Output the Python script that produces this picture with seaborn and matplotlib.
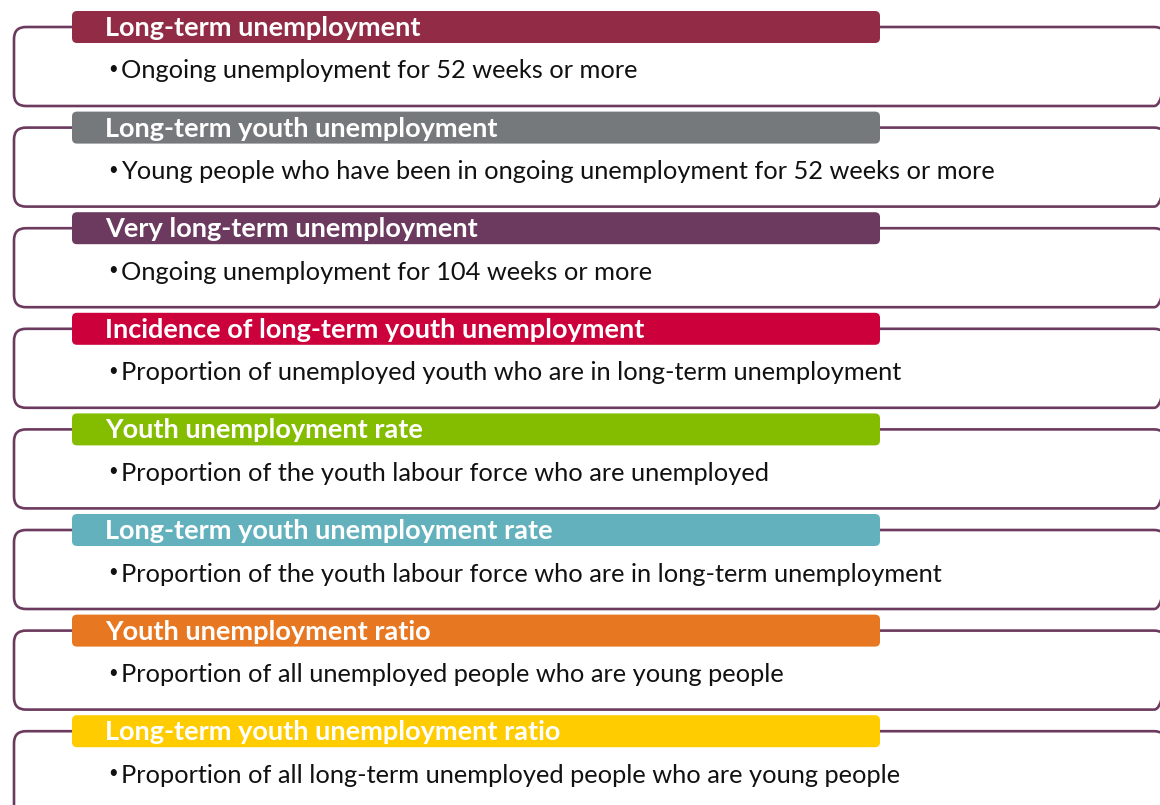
import matplotlib
matplotlib.use("Agg")
import matplotlib.pyplot as plt
from matplotlib.patches import FancyBboxPatch
import seaborn as sns

# ============================================
# DATA
# ============================================

titles = [
    "Long-term unemployment",
    "Long-term youth unemployment",
    "Very long-term unemployment",
    "Incidence of long-term youth unemployment",
    "Youth unemployment rate",
    "Long-term youth unemployment rate",
    "Youth unemployment ratio",
    "Long-term youth unemployment ratio",
]

descriptions = [
    "Ongoing unemployment for 52 weeks or more",
    "Young people who have been in ongoing unemployment for 52 weeks or more",
    "Ongoing unemployment for 104 weeks or more",
    "Proportion of unemployed youth who are in long-term unemployment",
    "Proportion of the youth labour force who are unemployed",
    "Proportion of the youth labour force who are in long-term unemployment",
    "Proportion of all unemployed people who are young people",
    "Proportion of all long-term unemployed people who are young people",
]

header_colors = [
    "#922B45", "#76797C", "#6B3A5E", "#CC003A",
    "#84BD00", "#63B1BC", "#E87722", "#FFCC00",
]

outline_color = "#6B3A5E"

# ============================================
# DRAW
# ============================================

sns.set_theme(style="white")
plt.rcParams["font.family"] = ["Lato", "DejaVu Sans"]

fig = plt.figure(figsize=(11.6, 8.05), dpi=100)
ax = fig.add_axes([0, 0, 1, 1])
ax.set_xlim(0, 1160)
ax.set_ylim(805, 0)
ax.axis("off")

pitch = 100.6
n = len(titles)
for i, (title, desc, col) in enumerate(zip(titles, descriptions, header_colors)):
    top = 11 + i * pitch

    # outline box hanging from the header (last one runs off the page)
    box_h = 79 if i < n - 1 else 140
    outline = FancyBboxPatch((14, top + 16), 1152, box_h,
                             boxstyle="round,pad=0,rounding_size=12",
                             facecolor="none", edgecolor=outline_color,
                             linewidth=1.9, zorder=1)
    ax.add_patch(outline)

    # coloured header bar
    header = FancyBboxPatch((72, top), 808, 32,
                            boxstyle="round,pad=0,rounding_size=5",
                            facecolor=col, edgecolor="none", zorder=2)
    ax.add_patch(header)

    ax.text(105, top + 17, title, color="white", fontsize=19.5,
            fontweight="bold", va="center", ha="left", zorder=3)
    ax.text(108, top + 58, "\u2022", color="#111111", fontsize=12,
            va="center", ha="left", zorder=3)
    ax.text(121, top + 60, desc, color="#111111", fontsize=18.3,
            va="center", ha="left", zorder=3)

fig.savefig("out.png", dpi=100, facecolor="white")
